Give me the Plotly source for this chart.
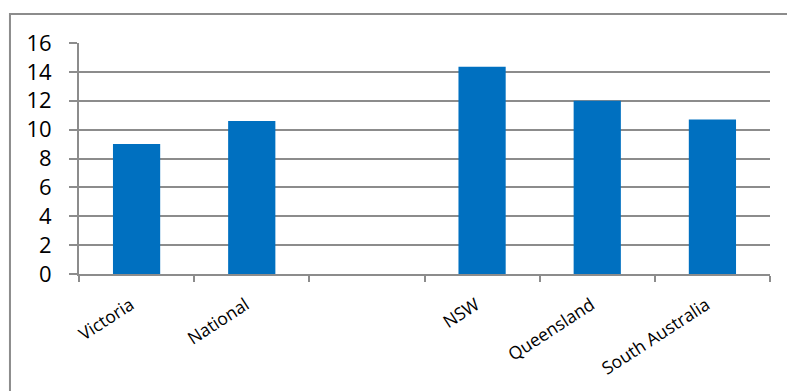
import plotly.graph_objects as go

# Category order as shown on the axis; the blank slot keeps its place
regions = ["Victoria", "National", " ", "NSW", "Queensland", "South Australia"]
rates = [9.0, 10.6, None, 14.35, 12.0, 10.7]
y_ticks = [0, 2, 4, 6, 8, 10, 12, 14, 16]

grid_grey = "#8c8c8c"
bar_blue = "#0070C0"
font_family = "Open Sans, Noto Sans, sans-serif"

fig = go.Figure()
fig.add_trace(go.Bar(
    x=regions,
    y=rates,
    marker=dict(color=bar_blue, line=dict(width=0)),
    width=0.41,
))

fig.update_layout(
    width=787,
    height=391,
    margin=dict(l=79, r=17, t=43, b=117),
    paper_bgcolor="white",
    plot_bgcolor="white",
    showlegend=False,
    font=dict(family=font_family, color="#000000"),
    xaxis=dict(
        type="category",
        categoryorder="array",
        categoryarray=regions,
        showgrid=False,
        showline=True,
        linecolor=grid_grey,
        linewidth=2,
        ticks="outside",
        tickson="boundaries",
        ticklen=6,
        tickwidth=2,
        tickcolor=grid_grey,
        tickangle=-33,
        ticklabelstandoff=12,
        ticklabelshift=-6,
        tickfont=dict(size=17.5, family=font_family),
        range=[-0.5, 5.5],
    ),
    yaxis=dict(
        range=[0, 16],
        tickvals=y_ticks,
        showgrid=True,
        gridcolor=grid_grey,
        gridwidth=2,
        zeroline=False,
        showline=True,
        linecolor=grid_grey,
        linewidth=2,
        ticks="outside",
        ticklen=8,
        tickwidth=2,
        tickcolor=grid_grey,
        ticklabelstandoff=13,
        tickfont=dict(size=22, family=font_family),
    ),
    shapes=[
        # chart frame (left and top edges; the right and bottom run off the page)
        dict(type="rect", xref="paper", yref="paper",
             x0=-0.0999, x1=1.1, y0=-0.6, y1=1.1255,
             line=dict(color=grid_grey, width=2), fillcolor="rgba(0,0,0,0)",
             layer="below"),
    ],
)

fig.write_html("out.html")
